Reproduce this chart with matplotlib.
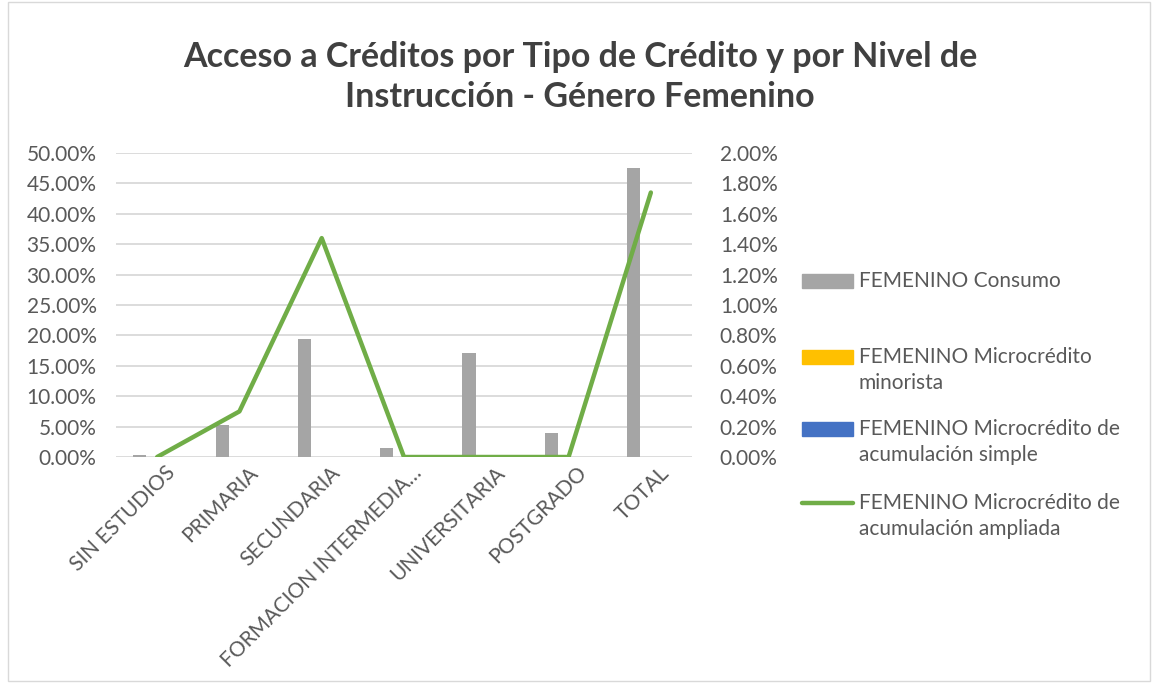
import matplotlib.pyplot as plt
import numpy as np
from matplotlib.patches import Rectangle
from matplotlib.lines import Line2D
from matplotlib.ticker import PercentFormatter
from matplotlib.transforms import ScaledTranslation

CATEGORIES = ["SIN ESTUDIOS", "PRIMARIA", "SECUNDARIA", "FORMACION INTERMEDIA…",
              "UNIVERSITARIA", "POSTGRADO", "TOTAL"]
CONSUMO = [0.3, 5.2, 19.4, 1.5, 17.1, 3.9, 47.5]          # left axis, %
MINORISTA = [0, 0, 0, 0, 0, 0, 0]                         # left axis, %
SIMPLE = [0, 0, 0, 0, 0, 0, 0]                            # left axis, %
AMPLIADA = [0.0, 0.30, 1.44, 0.0, 0.0, 0.0, 1.74]         # right axis, %

LABELS = ["FEMENINO Consumo", "FEMENINO Microcrédito\nminorista",
          "FEMENINO Microcrédito de\nacumulación simple",
          "FEMENINO Microcrédito de\nacumulación ampliada"]
COLORS = ["#a5a5a5", "#ffc000", "#4472c4", "#70ad47"]

plt.rcParams["font.family"] = ["Lato", "DejaVu Sans"]
TXT = "#595959"
FS = 15

W, H = 1152, 683
fig = plt.figure(figsize=(W / 100, H / 100), dpi=100)
fig.patches.append(Rectangle((8 / W, 2 / H), 1 - 10 / W, 1 - 4 / H, transform=fig.transFigure,
                             fill=False, edgecolor="#d9d9d9", linewidth=1))

ax = fig.add_axes([116 / W, 1 - 457 / H, (692 - 116) / W, (457 - 153) / H])
x = np.arange(len(CATEGORIES))
bw = 0.16
for i, (vals, col) in enumerate(zip([CONSUMO, MINORISTA, SIMPLE], COLORS)):
    ax.bar(x + (i - 1) * bw - 0.05, vals, width=bw, color=col, zorder=2)

ax.set_xlim(-0.5, len(CATEGORIES) - 0.5)
ax.set_ylim(0, 50)
ax.set_yticks(np.arange(0, 50.1, 5))
ax.yaxis.set_major_formatter(PercentFormatter(decimals=2))
ax.grid(axis="y", color="#d9d9d9", linewidth=1.3, zorder=0)
ax.set_axisbelow(True)
for s in ax.spines.values():
    s.set_visible(False)
ax.tick_params(axis="both", length=0, labelsize=FS, colors=TXT, pad=14)
ax.set_xticks(x)
ax.set_xticklabels(CATEGORIES, rotation=45, ha="right", rotation_mode="anchor")
ax.tick_params(axis="x", pad=4)
shift = ScaledTranslation(8 / 100, 0, fig.dpi_scale_trans)
for t in ax.get_xticklabels():
    t.set_transform(t.get_transform() + shift)

ax2 = ax.twinx()
ax2.plot(x, AMPLIADA, color=COLORS[3], linewidth=3.2, solid_capstyle="round", zorder=3)
ax2.set_ylim(0, 2)
ax2.set_yticks(np.arange(0, 2.01, 0.2))
ax2.yaxis.set_major_formatter(PercentFormatter(decimals=2))
for s in ax2.spines.values():
    s.set_visible(False)
ax2.tick_params(axis="y", length=0, labelsize=FS, colors=TXT, pad=20)

fig.text(580 / W, 1 - 77 / H, "Acceso a Créditos por Tipo de Crédito y por Nivel de\nInstrucción - Género Femenino",
         ha="center", va="center", fontsize=24.5, fontweight="bold", color="#404040", linespacing=1.3)

# legend
key_y = [281, 370, 442, 516]
for lab, col, ky in zip(LABELS, COLORS, key_y):
    if lab.endswith("ampliada"):
        ty = 1 - 503 / H
        fig.lines.append(Line2D([802 / W, 853 / W], [ty] * 2, transform=fig.transFigure,
                                color=col, linewidth=3.2, solid_capstyle="round"))
    else:
        ty = 1 - (ky - 13) / H if "\n" in lab else 1 - ky / H
        fig.patches.append(Rectangle((802 / W, ty - 7 / H), 51 / W, 14 / H,
                                     transform=fig.transFigure, color=col))
    fig.text(859 / W, ty + 10 / H, lab, ha="left", va="top", fontsize=FS, color=TXT,
             linespacing=1.35)

fig.savefig("out.png", dpi=100)
